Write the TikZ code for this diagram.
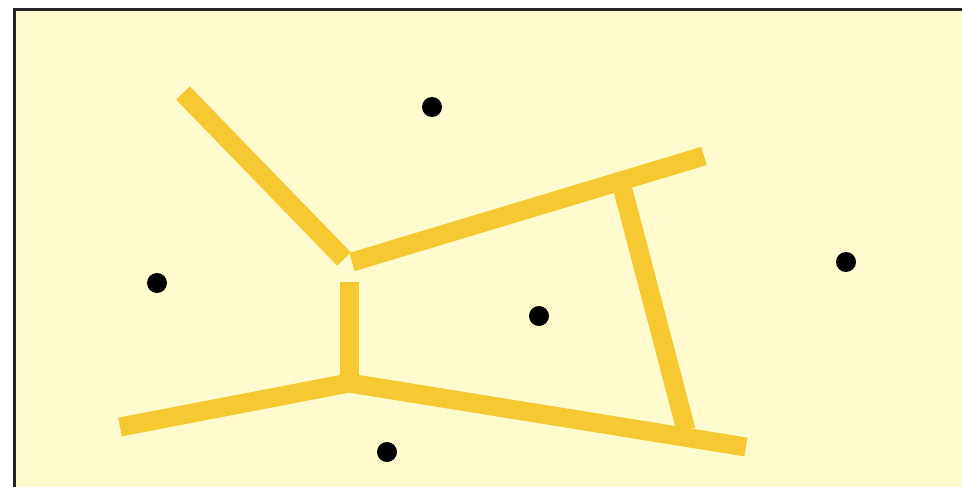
\documentclass[tikz,border=0pt]{standalone}
\definecolor{bgyellow}{HTML}{FFFBCE}
\definecolor{edgeyellow}{HTML}{F6C832}
\tikzset{
  site/.style={circle,fill=black,inner sep=0pt,minimum size=20pt},
  edge/.style={draw=edgeyellow,line width=19pt,line cap=butt}
}
\begin{document}
\begin{tikzpicture}[x=1pt,y=-1pt]
\useasboundingbox (0,0) rectangle (962,487);
\fill[white] (0,0) rectangle (962,487);
\fill[bgyellow] (14,10) rectangle (962,487);
\draw[black!85,line width=3pt] (14,487) -- (14,10) -- (962,10);
% Voronoi edges
\coordinate (a1) at (183,93);
\coordinate (a2) at (344,259);
\coordinate (b1) at (352,262);
\coordinate (b2) at (704,156);
\coordinate (c1) at (349,282);
\coordinate (c2) at (349,383);
\coordinate (d1) at (120,427);
\coordinate (e2) at (746,447);
\coordinate (f1) at (623,190);
\coordinate (f2) at (686,430);
\draw[edge] (a1) -- (a2);
\draw[edge] (b1) -- (b2);
\draw[edge] (c1) -- (c2);
\draw[edge,line join=miter] (d1) -- (c2) -- (e2);
\draw[edge] (f1) -- (f2);
% sites
\node[site] (s1) at (432,107) {};
\node[site] (s2) at (157,283) {};
\node[site] (s3) at (539,316) {};
\node[site] (s4) at (846,262) {};
\node[site] (s5) at (387,452) {};
\end{tikzpicture}
\end{document}
